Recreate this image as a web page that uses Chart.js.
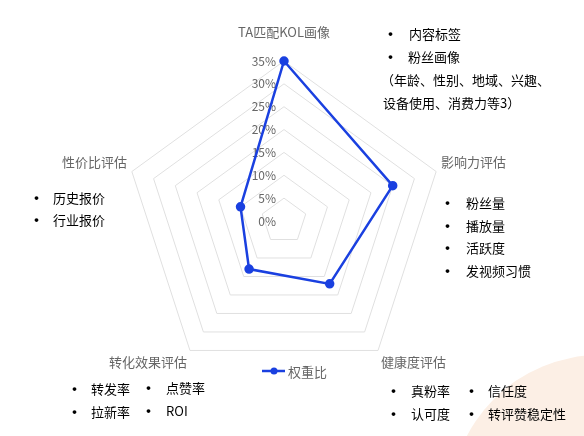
<!DOCTYPE html>
<html>
<head>
<meta charset="utf-8">
<script src="https://cdn.jsdelivr.net/npm/chart.js@4/dist/chart.umd.min.js"></script>
<style>
  html, body { margin: 0; padding: 0; background: #fff; }
  #wrap { position: relative; width: 584px; height: 436px; overflow: hidden; }
  #blob { position: absolute; left: 450px; top: 355px; width: 300px; height: 300px; border-radius: 50%; background: #fcefe5; }
  #chart { position: absolute; left: 0; top: 0; }
  .note { position: absolute; font: 13px 'Noto Sans CJK SC', sans-serif; color: #000; line-height: 22px; white-space: nowrap; }
  .dot { position: absolute; font-size: 15px; font-weight: bold; }
</style>
</head>
<body>
<div id="wrap">
  <div id="blob"></div>
  <canvas id="chart" width="584" height="436"></canvas>

  <!-- notes beside each axis -->
  <div class="note" style="left:383px;top:23px;"><span class="dot" style="left:0px;">•</span><span style="margin-left:26px;">内容标签</span></div>
  <div class="note" style="left:383px;top:46px;"><span class="dot" style="left:0px;">•</span><span style="margin-left:25px;">粉丝画像</span></div>
  <div class="note" style="left:381px;top:69px;">（年龄、性别、地域、兴趣、</div>
  <div class="note" style="left:383px;top:92px;">设备使用、消费力等3）</div>

  <div class="note" style="left:29px;top:187px;"><span class="dot">•</span><span style="margin-left:24px;">历史报价</span></div>
  <div class="note" style="left:29px;top:209px;"><span class="dot">•</span><span style="margin-left:24px;">行业报价</span></div>

  <div class="note" style="left:440px;top:192px;"><span class="dot">•</span><span style="margin-left:26px;">粉丝量</span></div>
  <div class="note" style="left:440px;top:215px;"><span class="dot">•</span><span style="margin-left:26px;">播放量</span></div>
  <div class="note" style="left:440px;top:237px;"><span class="dot">•</span><span style="margin-left:26px;">活跃度</span></div>
  <div class="note" style="left:440px;top:260px;"><span class="dot">•</span><span style="margin-left:26px;">发视频习惯</span></div>

  <div class="note" style="left:67px;top:378px;"><span class="dot">•</span><span style="margin-left:24px;">转发率</span></div>
  <div class="note" style="left:141px;top:377px;"><span class="dot">•</span><span style="margin-left:25px;">点赞率</span></div>
  <div class="note" style="left:67px;top:401px;"><span class="dot">•</span><span style="margin-left:24px;">拉新率</span></div>
  <div class="note" style="left:141px;top:400px;"><span class="dot">•</span><span style="margin-left:25px;">ROI</span></div>

  <div class="note" style="left:386px;top:380px;"><span class="dot">•</span><span style="margin-left:25px;">真粉率</span></div>
  <div class="note" style="left:464px;top:380px;"><span class="dot">•</span><span style="margin-left:24px;">信任度</span></div>
  <div class="note" style="left:386px;top:403px;"><span class="dot">•</span><span style="margin-left:25px;">认可度</span></div>
  <div class="note" style="left:464px;top:403px;"><span class="dot">•</span><span style="margin-left:24px;">转评赞稳定性</span></div>
</div>

<script>
// radar axes and weights (%)
const axisLabels = ['TA匹配KOL画像', '影响力评估', '健康度评估', '转化效果评估', '性价比评估'];
const weights = [35, 25, 17, 13, 10];
const tickValues = [0, 5, 10, 15, 20, 25, 30, 35];
const seriesName = '权重比';

const blue = '#1a40e0';
const grayText = '#666';
const cjk = "'Noto Sans CJK SC', sans-serif";

// tick labels sit left of the vertical axis, under the line
const tickLabelPlugin = {
    id: 'tickLabels',
    beforeDatasetsDraw(chart) {
        const s = chart.scales.r;
        const ctx = chart.ctx;
        ctx.save();
        ctx.font = '12px ' + cjk;
        ctx.fillStyle = grayText;
        ctx.textAlign = 'right';
        ctx.textBaseline = 'middle';
        tickValues.forEach(v => {
            const d = s.getDistanceFromCenterForValue(v);
            ctx.fillText(v + '%', s.xCenter - 8, s.yCenter - d);
        });
        ctx.restore();
    }
};

// legend drawn over the bottom of the grid area
const legendPlugin = {
    id: 'overlayLegend',
    afterDraw(chart) {
        const ds = chart.data.datasets[0];
        const ctx = chart.ctx;
        const x = chart.width / 2 - 30;
        const y = 371;
        ctx.save();
        ctx.strokeStyle = ds.borderColor;
        ctx.lineWidth = 2.5;
        ctx.beginPath();
        ctx.moveTo(x, y);
        ctx.lineTo(x + 23, y);
        ctx.stroke();
        ctx.fillStyle = ds.borderColor;
        ctx.beginPath();
        ctx.arc(x + 12, y, 3.5, 0, Math.PI * 2);
        ctx.fill();
        ctx.font = '13px ' + cjk;
        ctx.fillStyle = grayText;
        ctx.textBaseline = 'middle';
        ctx.fillText(ds.label, x + 26, y + 1);
        ctx.restore();
    }
};

new Chart(document.getElementById('chart'), {
    type: 'radar',
    data: {
        labels: axisLabels,
        datasets: [{
            label: seriesName,
            data: weights,
            borderColor: blue,
            backgroundColor: blue,
            pointBackgroundColor: blue,
            pointBorderColor: blue,
            borderWidth: 2.5,
            pointRadius: 3.5,
            fill: false,
            tension: 0
        }]
    },
    options: {
        responsive: false,
        animation: false,
        layout: { padding: { top: 6, bottom: 36, left: 49, right: 65 } },
        plugins: {
            legend: { display: false },
            tooltip: { enabled: false }
        },
        scales: {
            r: {
                min: 0,
                max: 35,
                ticks: { display: false, stepSize: 5 },
                angleLines: { display: false },
                grid: { color: '#e0e0e0', lineWidth: 1 },
                pointLabels: {
                    font: { size: 13, family: cjk },
                    color: grayText,
                    padding: ctx => ctx.index === 0 ? 21.4 : 5
                }
            }
        }
    },
    plugins: [tickLabelPlugin, legendPlugin]
});
</script>
</body>
</html>
